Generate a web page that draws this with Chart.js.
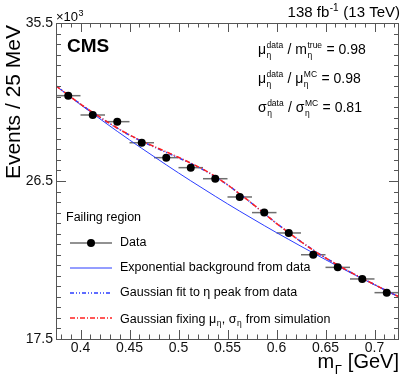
<!DOCTYPE html>
<html>
<head>
<meta charset="utf-8">
<script src="https://cdn.jsdelivr.net/npm/chart.js@4.4.0/dist/chart.umd.min.js"></script>
<style>
html,body{margin:0;padding:0;background:#fff}
</style>
</head>
<body>
<canvas id="myChart" width="407" height="376"></canvas>
<script>
// values in units of 10^3 events
var binCenters = [0.3875, 0.4125, 0.4375, 0.4625, 0.4875, 0.5125, 0.5375, 0.5625, 0.5875, 0.6125, 0.6375, 0.6625, 0.6875, 0.7125]
var dataCounts = [31.36, 30.26, 29.88, 28.68, 27.83, 27.26, 26.63, 25.59, 24.70, 23.54, 22.30, 21.58, 20.92, 20.14]
var binHalfWidth = 0.0125
var curveX  = [0.375, 0.3875, 0.400, 0.4125, 0.425, 0.4375, 0.450, 0.4625, 0.475, 0.4875, 0.500, 0.5125, 0.525, 0.5375, 0.550,
               0.5625, 0.575, 0.5875, 0.600, 0.6125, 0.625, 0.6375, 0.650, 0.6625, 0.675, 0.6875, 0.700, 0.7125, 0.725]
var bkgExp  = [31.91, 31.38, 30.85, 30.34, 29.83, 29.33, 28.84, 28.36, 27.89, 27.42, 26.96, 26.51, 26.07, 25.63, 25.20,
               24.78, 24.37, 23.96, 23.56, 23.17, 22.78, 22.40, 22.02, 21.65, 21.29, 20.94, 20.59, 20.24, 19.90]
var gausFit = [31.92, 31.40, 30.88, 30.40, 29.94, 29.51, 29.11, 28.76, 28.44, 28.13, 27.82, 27.50, 27.15, 26.74, 26.28,
               25.76, 25.22, 24.65, 24.09, 23.56, 23.05, 22.57, 22.13, 21.71, 21.32, 20.96, 20.60, 20.24, 19.90]
var gausMC  = [31.92, 31.40, 30.88, 30.41, 29.95, 29.52, 29.13, 28.78, 28.47, 28.16, 27.85, 27.52, 27.17, 26.76, 26.29,
               25.76, 25.22, 24.65, 24.08, 23.55, 23.04, 22.56, 22.12, 21.71, 21.32, 20.96, 20.60, 20.24, 19.90]
var xTicks = [0.4, 0.45, 0.5, 0.55, 0.6, 0.65, 0.7]
var yTicks = [17.5, 26.5, 35.5]

const FONT = "'Liberation Sans', Arial, sans-serif"
const BLUE = '#2b3dff', RED = '#ff2020'

function pts(xs, ys){ return xs.map((v,i)=>({x:v, y:ys[i]})) }

// text with sub/superscripts: parts are strings or {sup, sub}
function drawRich(ctx, parts, x, y, big, small, align){
  let w = 0
  const seg = parts.map(p=>{
    if (typeof p === 'string'){ ctx.font = big+'px '+FONT; const ww = ctx.measureText(p).width; w += ww; return ww }
    ctx.font = small+'px '+FONT
    const ww = Math.max(p.sup ? ctx.measureText(p.sup).width : 0, p.sub ? ctx.measureText(p.sub).width : 0) + 1
    w += ww; return ww
  })
  let cx = align === 'right' ? x - w : x
  ctx.textAlign = 'left'; ctx.textBaseline = 'alphabetic'
  parts.forEach((p,i)=>{
    if (typeof p === 'string'){ ctx.font = big+'px '+FONT; ctx.fillText(p, cx, y) }
    else {
      ctx.font = small+'px '+FONT
      if (p.sup) ctx.fillText(p.sup, cx+0.5, y - big*0.42)
      if (p.sub) ctx.fillText(p.sub, cx+0.5, y + big*0.3)
    }
    cx += seg[i]
  })
}

const rootStyle = {
  id: 'rootStyle',
  beforeDatasetsDraw(chart){
    const {ctx, scales:{x, y}} = chart
    ctx.save()
    ctx.strokeStyle = '#6e6e6e'; ctx.lineWidth = 1.5
    binCenters.forEach((c,i)=>{
      const py = y.getPixelForValue(dataCounts[i])
      ctx.beginPath()
      ctx.moveTo(x.getPixelForValue(c-binHalfWidth), py)
      ctx.lineTo(x.getPixelForValue(c+binHalfWidth), py)
      ctx.stroke()
    })
    ctx.restore()
  },
  afterDraw(chart){
    const {ctx, chartArea:a, scales:{x, y}} = chart
    ctx.save()
    // frame
    ctx.strokeStyle = '#555'; ctx.lineWidth = 1
    ctx.strokeRect(a.left+0.5, a.top+0.5, a.right-a.left-1, a.bottom-a.top)
    ctx.beginPath()
    for (let v = 0.38; v < 0.7251; v += 0.01){
      const px = Math.round(x.getPixelForValue(v))+0.5
      const major = xTicks.some(t=>Math.abs(t-v)<1e-6)
      const L = major ? 9 : 4.5
      ctx.moveTo(px, a.bottom); ctx.lineTo(px, a.bottom-L)
      ctx.moveTo(px, a.top); ctx.lineTo(px, a.top+L)
    }
    for (let v = 17.5; v < 35.51; v += 0.6){
      const py = Math.round(y.getPixelForValue(v))+0.5
      const major = yTicks.some(t=>Math.abs(t-v)<1e-6)
      const L = major ? 10 : 5
      ctx.moveTo(a.left, py); ctx.lineTo(a.left+L, py)
      ctx.moveTo(a.right, py); ctx.lineTo(a.right-L, py)
    }
    ctx.stroke()

    ctx.fillStyle = '#000'
    // header
    drawRich(ctx, ['×10', {sup:'3'}], 56, 21, 13, 9)
    drawRich(ctx, ['138 fb', {sup:'-1'}, ' (13 TeV)'], 400, 17, 15, 10, 'right')
    ctx.font = 'bold 19px '+FONT; ctx.textAlign = 'left'
    ctx.fillText('CMS', 67, 52)
    // fit results
    drawRich(ctx, ['μ', {sup:'data', sub:'η'}, ' / m', {sup:'true', sub:'η'}, ' = 0.98'], 258, 54, 14, 8.5)
    drawRich(ctx, ['μ', {sup:'data', sub:'η'}, ' / μ', {sup:'MC', sub:'η'}, ' = 0.98'], 258, 83, 14, 8.5)
    drawRich(ctx, ['σ', {sup:'data', sub:'η'}, ' / σ', {sup:'MC', sub:'η'}, ' = 0.81'], 258, 112, 14, 8.5)
    // axis titles
    drawRich(ctx, ['m', {sub:'Γ'}, ' [GeV]'], 399, 368, 20, 13, 'right')
    ctx.save()
    ctx.translate(20, 25); ctx.rotate(-Math.PI/2)
    ctx.font = '21px '+FONT; ctx.textAlign = 'right'
    ctx.fillText('Events / 25 MeV', 0, 0)
    ctx.restore()

    // legend
    ctx.font = '12.5px '+FONT; ctx.textAlign = 'left'; ctx.textBaseline = 'middle'
    ctx.fillText('Failing region', 66, 218)
    const rows = [
      {y:243, label:'Data', color:'#6e6e6e', dash:[], w:1.5, dot:true},
      {y:268, label:'Exponential background from data', color:BLUE, dash:[], w:1},
      {y:293, label:'Gaussian fit to η peak from data', color:BLUE, dash:[4,2,1,2,1,2], w:1.5},
      {y:318, label:null, color:RED, dash:[5,2,1,2], w:1.5}
    ]
    rows.forEach(r=>{
      ctx.strokeStyle = r.color; ctx.lineWidth = r.w; ctx.setLineDash(r.dash)
      ctx.beginPath(); ctx.moveTo(70, r.y); ctx.lineTo(112, r.y); ctx.stroke()
      ctx.setLineDash([])
      if (r.dot){ ctx.fillStyle = '#000'; ctx.beginPath(); ctx.arc(91, r.y, 4, 0, 2*Math.PI); ctx.fill() }
      ctx.fillStyle = '#000'
      ctx.font = '12.5px '+FONT; ctx.textBaseline = 'middle'
      if (r.label) ctx.fillText(r.label, 120, r.y)
    })
    ctx.textBaseline = 'alphabetic'
    drawRich(ctx, ['Gaussian fixing μ', {sub:'η'}, ', σ', {sub:'η'}, ' from simulation'], 120, 322.5, 12.5, 8.5)
    ctx.restore()
  }
}

const ctx = document.getElementById('myChart').getContext('2d')
const myChart = new Chart(ctx, {
  type: 'scatter',
  data: {
    datasets: [
      {label:'Data', data: pts(binCenters, dataCounts), pointRadius: 4, pointBackgroundColor:'#000', pointBorderWidth:0, showLine:false},
      {label:'Gaussian fixing', data: pts(curveX, gausMC), showLine:true, pointRadius:0, borderColor:RED, borderWidth:1.5, borderDash:[5,2,1,2], cubicInterpolationMode:'monotone'},
      {label:'Gaussian fit', data: pts(curveX, gausFit), showLine:true, pointRadius:0, borderColor:BLUE, borderWidth:1.5, borderDash:[4,2,1,2,1,2], cubicInterpolationMode:'monotone'},
      {label:'Exponential', data: pts(curveX, bkgExp), showLine:true, pointRadius:0, borderColor:BLUE, borderWidth:1, cubicInterpolationMode:'monotone'}
    ]
  },
  options: {
    responsive: false,
    animation: false,
    layout: {padding: {top: 23, right: 8, left: 0, bottom: 0}},
    plugins: {legend: {display:false}, tooltip: {enabled:false}},
    scales: {
      x: {
        type: 'linear', min: 0.375, max: 0.725,
        grid: {display:false, drawTicks:false}, border: {display:false},
        afterBuildTicks: s => { s.ticks = xTicks.map(v=>({value:v})) },
        afterFit: s => { s.height = 37 },
        ticks: {padding: 1, color:'#111', font:{family:FONT, size:14}, maxRotation:0, autoSkip:false,
          callback: v => String(Number(v.toFixed(2)))}
      },
      y: {
        min: 17.5, max: 35.5,
        grid: {display:false, drawTicks:false}, border: {display:false},
        afterBuildTicks: s => { s.ticks = yTicks.map(v=>({value:v})) },
        afterFit: s => { s.width = 56 },
        ticks: {padding: 3, color:'#111', font:{family:FONT, size:14}, callback: v => v.toFixed(1)}
      }
    }
  },
  plugins: [rootStyle]
})
</script>
</body>
</html>
